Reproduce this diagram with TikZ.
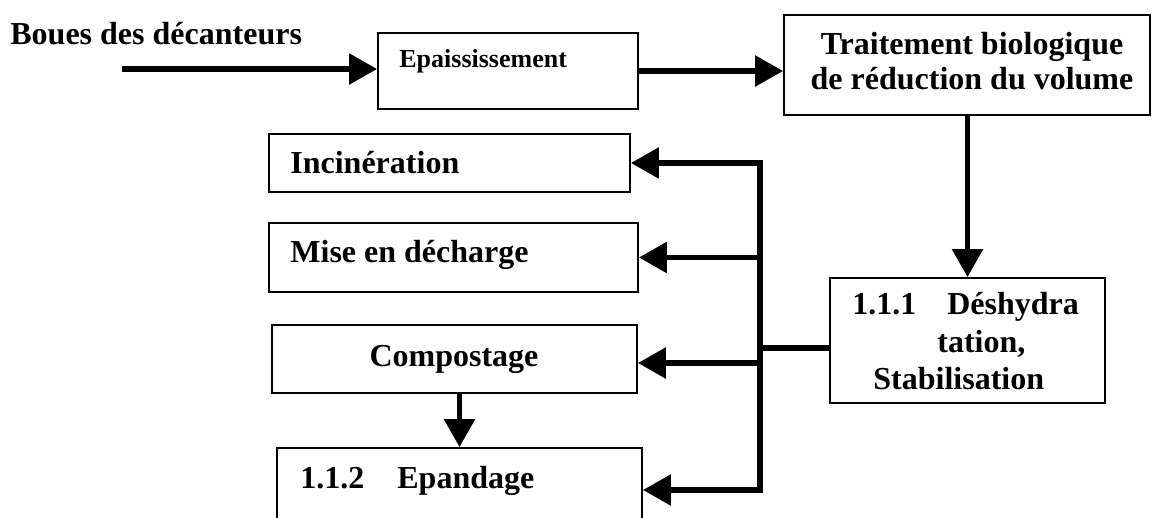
\documentclass[tikz,border=0pt]{standalone}
\usepackage{fontspec}
\setmainfont{Liberation Serif}
\usetikzlibrary{arrows.meta}

\begin{document}
\begin{tikzpicture}[x=0.5pt, y=-0.5pt,
    boite/.style={draw, line width=0.9pt, inner sep=0pt},
    texte/.style={inner sep=0pt, font=\fontsize{16pt}{18.5pt}\selectfont\bfseries},
    fleche/.style={line width=2.8pt, -{Triangle[length=14pt,width=15pt]}},
    liaison/.style={line width=2.8pt}]

                \useasboundingbox (0,0) rectangle (1152,518);

                % --- Chaine principale ---
                \node[boite, minimum width=130pt, minimum height=38pt] (epais) at (508,71) {};
                \node[boite, minimum width=183pt, minimum height=50pt] (trait) at (967,65) {};
                \node[boite, minimum width=137.5pt, minimum height=62.5pt] (desh) at (967.5,340.5) {};

                % --- Destinations ---
                \node[boite, minimum width=180.5pt, minimum height=29pt] (incin) at (449.5,163) {};
                \node[boite, minimum width=184.5pt, minimum height=34.5pt] (mise) at (453.5,257.5) {};
                \node[boite, minimum width=182.5pt, minimum height=34pt] (compo) at (454.5,359) {};
                \node[boite, minimum width=182.5pt, minimum height=41pt] (epand) at (459.5,489) {};

                % --- Textes (ancre base = derniere ligne) ---
                \node[texte, anchor=base west] (bouesT) at (10,45) {Boues des décanteurs};
                \node[texte, font=\fontsize{13pt}{15pt}\selectfont\bfseries, anchor=base west] (epaisT) at (399,68) {Epaississement};
                \node[texte, font=\fontsize{16pt}{17.5pt}\selectfont\bfseries, align=center, anchor=base] (traitT) at (972,90)
                {Traitement biologique\\de réduction du volume};
                \node[texte, font=\fontsize{16pt}{18.75pt}\selectfont\bfseries, align=left, anchor=base west] (deshT) at (852,390)
                {1.1.1\hspace*{15.5pt}Déshydra\\\hspace*{42.5pt}tation,\\\hspace*{10.5pt}Stabilisation};
                \node[texte, anchor=base west] (incinT) at (290,174) {Incinération};
                \node[texte, anchor=base west] (miseT) at (290,263) {Mise en décharge};
                \node[texte, anchor=base] (compoT) at (454,366) {Compostage};
                \node[texte, anchor=base west] (epandT) at (300,488) {1.1.2\hspace*{16.5pt}Epandage};

                % --- Points du collecteur ---
                \coordinate (entree) at (122,69);
                \coordinate (busHaut) at (760,163);
                \coordinate (busMil) at (760,348);
                \coordinate (busCompo) at (760,363);
                \coordinate (busBas) at (760,490);

                % --- Fleches ---
                \draw[fleche] (entree) -- (entree -| epais.west);
                \draw[fleche] (epais.east) -- (epais.east -| trait.west);
                \draw[fleche] (trait.south -| desh.north) -- (desh.north);
                \draw[liaison] (busMil -| desh.west) -- (busMil);
                \draw[liaison, line cap=rect] (busHaut) -- (busBas);
                \draw[fleche] (busHaut) -- (busHaut -| incin.east);
                \draw[fleche] (busHaut |- mise.east) -- (mise.east);
                \draw[fleche] (busCompo) -- (busCompo -| compo.east);
                \draw[fleche] (busBas) -- (busBas -| epand.east);
                \draw[fleche] (compo.south -| epand.north) -- (epand.north);

            \end{tikzpicture}
\end{document}
